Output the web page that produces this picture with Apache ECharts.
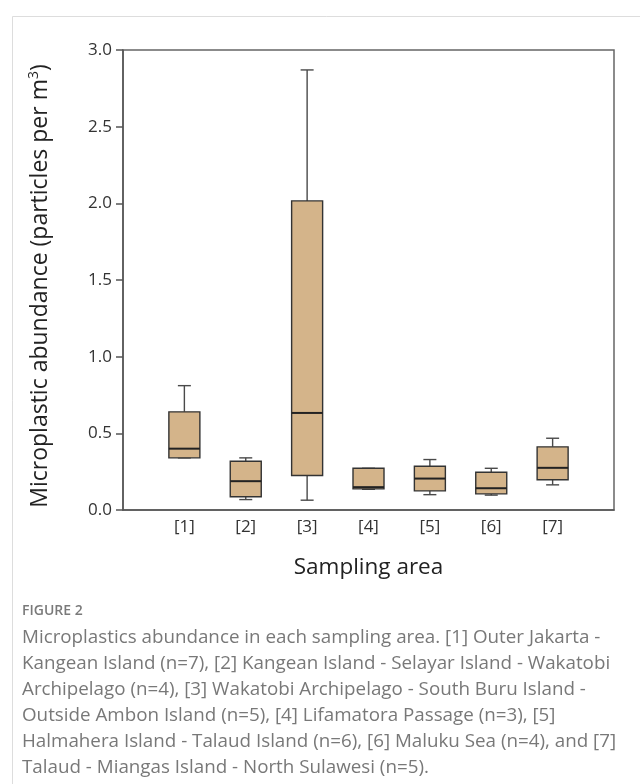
<!DOCTYPE html>
<html>
<head>
<meta charset="utf-8">
<script src="https://cdn.jsdelivr.net/npm/echarts@6/dist/echarts.min.js"></script>
<style>
html,body{margin:0;padding:0;background:#fff;}
#chart{width:640px;height:784px;}
</style>
</head>
<body>
<div id="chart"></div>
<script>
const categories = ['[1]', '[2]', '[3]', '[4]', '[5]', '[6]', '[7]'];
const minVals    = [0.34, 0.068, 0.064, 0.135, 0.100, 0.097, 0.164];
const q1Vals     = [0.34, 0.086, 0.225, 0.138, 0.125, 0.105, 0.197];
const medianVals = [0.40, 0.188, 0.633, 0.149, 0.205, 0.142, 0.275];
const q3Vals     = [0.64, 0.318, 2.016, 0.272, 0.285, 0.246, 0.412];
const maxVals    = [0.811, 0.340, 2.870, 0.272, 0.329, 0.272, 0.468];
const yTicks = [0, 0.5, 1.0, 1.5, 2.0, 2.5, 3.0];
const captionLines = [
  'Microplastics abundance in each sampling area. [1] Outer Jakarta -',
  'Kangean Island (n=7), [2] Kangean Island - Selayar Island - Wakatobi',
  'Archipelago (n=4), [3] Wakatobi Archipelago - South Buru Island -',
  'Outside Ambon Island (n=5), [4] Lifamatora Passage (n=3), [5]',
  'Halmahera Island - Talaud Island (n=6), [6] Maluku Sea (n=4), and [7]',
  'Talaud - Miangas Island - North Sulawesi (n=5).'
];

const axisCats = [''].concat(categories).concat([' ']);
const rows = categories.map((c, i) => [i + 1, minVals[i], q1Vals[i], medianVals[i], q3Vals[i], maxVals[i]]);

const chart = echarts.init(document.getElementById('chart'), null, {renderer: 'canvas'});
const FONT = '"Open Sans", sans-serif';

function renderBox(params, api) {
  const x = api.value(0);
  const pMin = api.coord([x, api.value(1)]);
  const pQ1 = api.coord([x, api.value(2)]);
  const pMed = api.coord([x, api.value(3)]);
  const pQ3 = api.coord([x, api.value(4)]);
  const pMax = api.coord([x, api.value(5)]);
  const cx = pMed[0];
  const bw = 31, cw = 13;
  const ws = {stroke: '#4a4a4a', lineWidth: 1.4};
  return {
    type: 'group',
    children: [
      {type: 'line', shape: {x1: cx, y1: pMax[1], x2: cx, y2: pQ3[1]}, style: ws},
      {type: 'line', shape: {x1: cx - cw / 2, y1: pMax[1], x2: cx + cw / 2, y2: pMax[1]}, style: ws},
      {type: 'line', shape: {x1: cx, y1: pMin[1], x2: cx, y2: pQ1[1]}, style: ws},
      {type: 'line', shape: {x1: cx - cw / 2, y1: pMin[1], x2: cx + cw / 2, y2: pMin[1]}, style: ws},
      {type: 'rect', shape: {x: cx - bw / 2, y: pQ3[1], width: bw, height: pQ1[1] - pQ3[1]},
       style: {fill: '#D4B48A', stroke: '#333', lineWidth: 1.4}},
      {type: 'line', shape: {x1: cx - bw / 2, y1: pMed[1], x2: cx + bw / 2, y2: pMed[1]},
       style: {stroke: '#222', lineWidth: 2}}
    ]
  };
}

const graphics = [
  {type: 'rect', left: 10, top: 14, shape: {width: 700, height: 900},
   style: {fill: 'none', stroke: '#dddddd', lineWidth: 1}, silent: true},
  {type: 'text', x: 22, y: 611,
   style: {text: 'FIGURE 2', fill: '#7a7a7a', font: '600 14px ' + FONT, verticalAlign: 'middle'}},
  {type: 'text', x: 40, y: 286, rotation: Math.PI / 2,
   style: {text: 'Microplastic abundance (particles per m{sup|3})', fill: '#222',
     font: '23px ' + FONT, align: 'center', verticalAlign: 'middle',
     rich: {sup: {font: '14px ' + FONT, fill: '#222', verticalAlign: 'top', padding: [0, 0, 12, 0]}}}}
];
captionLines.forEach((t, i) => {
  graphics.push({type: 'text', x: 22, y: 638 + i * 26,
    style: {text: t, fill: '#787878', font: '18.8px ' + FONT, verticalAlign: 'middle'}});
});

chart.setOption({
  animation: false,
  backgroundColor: '#fff',
  grid: {left: 123, right: 26, top: 50, bottom: 274, show: true, borderColor: '#666', borderWidth: 1.5},
  xAxis: {
    type: 'category',
    data: axisCats,
    boundaryGap: false,
    name: 'Sampling area',
    nameLocation: 'middle',
    nameGap: 46,
    nameTextStyle: {fontFamily: FONT, fontSize: 22.5, color: '#222'},
    axisLine: {lineStyle: {color: '#555', width: 1.5}},
    axisTick: {show: false},
    axisLabel: {interval: 0, fontFamily: FONT, fontSize: 17, color: '#333', margin: 9},
    splitLine: {show: false}
  },
  yAxis: {
    type: 'value',
    min: 0, max: 3, interval: 0.5,
    axisLine: {show: true, lineStyle: {color: '#555', width: 1.5}},
    axisTick: {show: true, length: 7, lineStyle: {color: '#555', width: 1.5}},
    axisLabel: {fontFamily: FONT, fontSize: 17, color: '#333', margin: 11,
      formatter: v => yTicks.indexOf(v) >= 0 ? v.toFixed(1) : ''},
    splitLine: {show: false}
  },
  series: [{
    type: 'custom',
    renderItem: renderBox,
    encode: {x: 0, y: [1, 2, 3, 4, 5]},
    data: rows
  }],
  graphic: graphics
});
</script>
</body>
</html>
